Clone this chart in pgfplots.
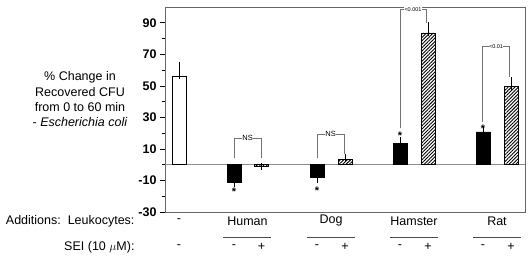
\documentclass[border=0pt]{standalone}
\usepackage{pgfplots}
\pgfplotsset{compat=1.18}
\usepackage{fontspec}
\setmainfont{Liberation Sans}
\usetikzlibrary{patterns.meta}
\begin{document}
\begin{tikzpicture}
\path[use as bounding box] (0,0) rectangle (532bp,266bp);
\begin{axis}[
  at={(165bp,54bp)}, anchor=south west,
  scale only axis, width=360bp, height=205bp,
  xmin=165, xmax=525, ymin=-30, ymax=100,
  clip=false,
  xtick=\empty,
  ytick={-30,-10,10,30,50,70,90},
  minor ytick={-20,0,20,40,60,80},
  ytick pos=left,
  tick align=outside,
  major tick length=5bp, minor tick length=3bp,
  tick style={black, line width=0.6pt},
  axis line style={black!60, line width=0.8pt},
  /pgf/number format/assume math mode=true,
  yticklabel style={font=\fontsize{12.5bp}{14bp}\selectfont\bfseries},
  every axis plot/.append style={line width=0.6pt},
]
% zero line
\addplot[black!45, line width=0.8pt, forget plot] coordinates {(165,0) (525,0)};

% white bar
\addplot[ybar, bar width=14, bar shift=0pt, draw=black, fill=white,
  error bars/.cd, y dir=both, y explicit, error mark options={mark size=3bp, black}]
  coordinates {(179,56) += (0,7) -= (0,0)};

% black bars
\addplot[ybar, bar width=14, bar shift=0pt, draw=black, fill=black,
  error bars/.cd, y dir=both, y explicit, error mark options={mark size=3bp, black}]
  coordinates {
   (234,-11) += (0,0) -= (0,1.5)
   (317,-7.7) += (0,0) -= (0,1.7)
   (400,13.4) += (0,2.1) -= (0,0)
   (483,20.8) += (0,1.8) -= (0,0)
  };

% hatched bars
\addplot[ybar, bar width=14, bar shift=0pt, draw=black,
  pattern={Lines[angle=45,distance=2.4bp,line width=0.9bp]},
  error bars/.cd, y dir=both, y explicit, error mark options={mark size=3bp, black}]
  coordinates {
   (261.5,-0.8) += (0,0) -= (0,0.6)
   (345,3.3) += (0,1.7) -= (0,0)
   (428,83.6) += (0,5) -= (0,0)
   (511,49.4) += (0,4.2) -= (0,0)
  };

% significance brackets
\addplot[black!55, line width=0.6pt] coordinates {(234,4) (234,16.8) (261.5,16.8) (261.5,4)};
\addplot[black!55, line width=0.6pt] coordinates {(317,4) (317,19.3) (344.5,19.3) (344.5,6.7)};
\addplot[black!55, line width=0.6pt] coordinates {(400,23) (400,98.4) (426,98.4) (426,89.8)};
\addplot[black!55, line width=0.6pt] coordinates {(482.5,27) (482.5,75.1) (509.5,75.1) (509.5,55.7)};
\node[fill=white, inner sep=0.4pt, font=\fontsize{7.5bp}{8bp}\selectfont] at (axis cs:247.7,16.8) {NS};
\node[fill=white, inner sep=0.4pt, font=\fontsize{7.5bp}{8bp}\selectfont] at (axis cs:330.7,19.3) {NS};
\node[fill=white, inner sep=0.4pt, font=\fontsize{5.5bp}{6bp}\selectfont] at (axis cs:413,98.4) {<0.001};
\node[fill=white, inner sep=0.4pt, font=\fontsize{5.5bp}{6bp}\selectfont] at (axis cs:496,75.1) {<0.01};

% stars
\node[font=\fontsize{11bp}{11bp}\selectfont\bfseries] at (axis cs:234,-17) {*};
\node[font=\fontsize{11bp}{11bp}\selectfont\bfseries] at (axis cs:317,-16.3) {*};
\node[font=\fontsize{11bp}{11bp}\selectfont\bfseries] at (axis cs:400,18.3) {*};
\node[font=\fontsize{11bp}{11bp}\selectfont\bfseries] at (axis cs:483,22.5) {*};

% y label
\node[align=center, font=\fontsize{12.5bp}{15.3bp}\selectfont] at (axis cs:80,41.5)
  {\% Change in\\Recovered CFU\\from 0 to 60 min\\- \textit{Escherichia coli}};

% bottom labels
\begin{scope}[every node/.style={font=\fontsize{12.5bp}{14bp}\selectfont}]
\node[anchor=east] at (axis cs:138,-35.7) {Additions:\ \ Leukocytes:};
\node[anchor=east] at (axis cs:138,-52.2) {SEI (10 $\mu$M):};
\node at (axis cs:179,-35.7) {-};
\node at (axis cs:247.5,-35.7) {Human};
\node at (axis cs:331,-35.7) {Dog};
\node at (axis cs:414,-35.7) {Hamster};
\node at (axis cs:497,-35.7) {Rat};
\node at (axis cs:179,-52.2) {-};
\node at (axis cs:234,-52.2) {-};
\node at (axis cs:261.5,-52.2) {+};
\node at (axis cs:317,-52.2) {-};
\node at (axis cs:345,-52.2) {+};
\node at (axis cs:400,-52.2) {-};
\node at (axis cs:428,-52.2) {+};
\node at (axis cs:483,-52.2) {-};
\node at (axis cs:511,-52.2) {+};
\end{scope}
\draw[black!70, line width=0.6pt] (axis cs:223,-45.9) -- (axis cs:271,-45.9);
\draw[black!70, line width=0.6pt] (axis cs:307,-45.9) -- (axis cs:355,-45.9);
\draw[black!70, line width=0.6pt] (axis cs:390,-45.9) -- (axis cs:438,-45.9);
\draw[black!70, line width=0.6pt] (axis cs:473,-45.9) -- (axis cs:521,-45.9);
\end{axis}
\end{tikzpicture}
\end{document}
